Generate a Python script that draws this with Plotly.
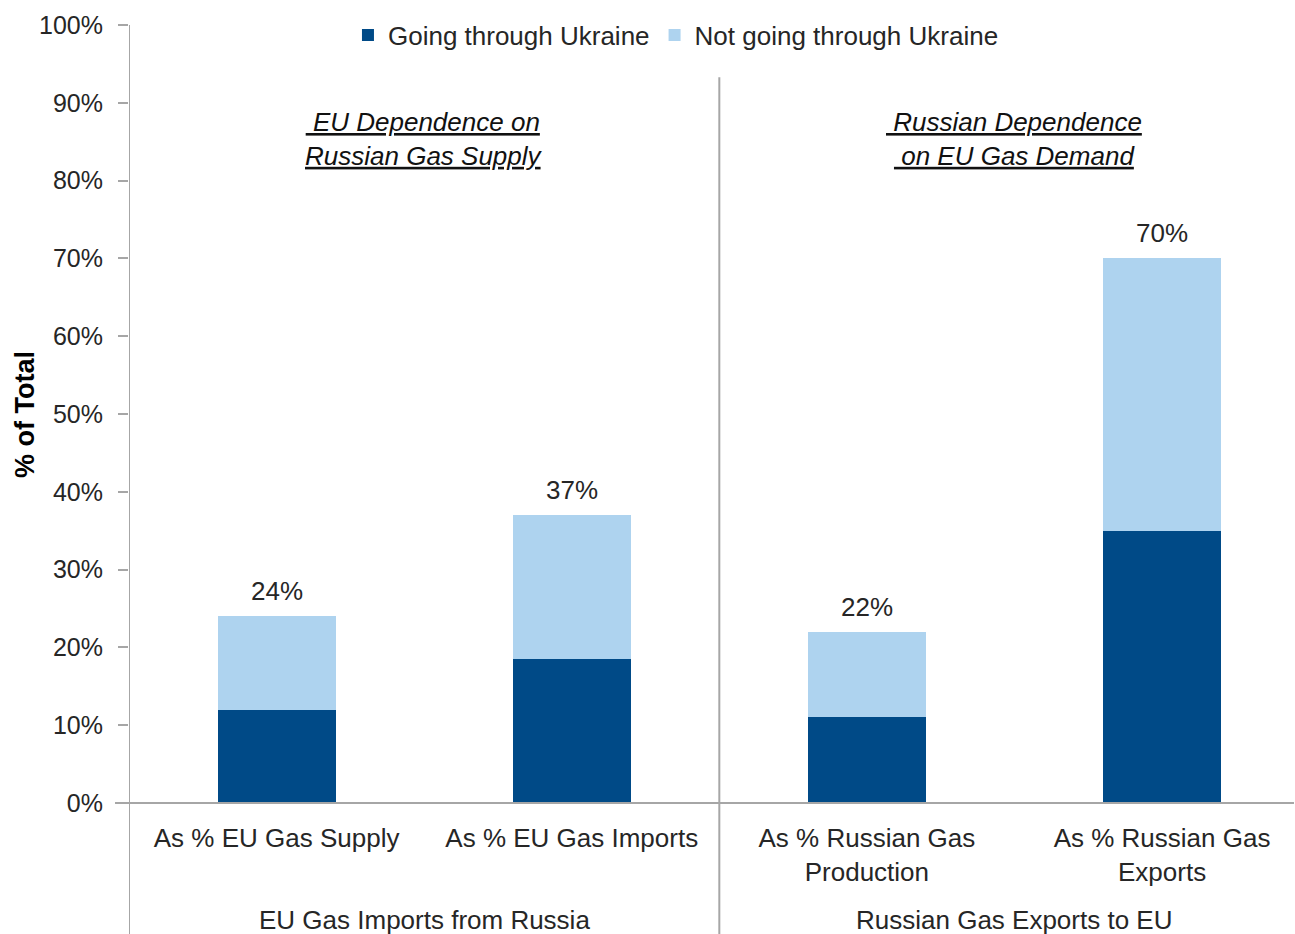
import plotly.graph_objects as go

# Share of gas volumes, split by transit route
categories = ["As % EU Gas Supply", "As % EU Gas Imports",
              "As % Russian Gas<br>Production", "As % Russian Gas<br>Exports"]
through_ukraine = [0.12, 0.185, 0.11, 0.35]
not_through_ukraine = [0.12, 0.185, 0.11, 0.35]
totals = [0.24, 0.37, 0.22, 0.70]
total_labels = ["24%", "37%", "22%", "70%"]

groups = ["EU Gas Imports from Russia", "Russian Gas Exports to EU"]
panel_titles = ["<i><u> EU Dependence on</u></i><br><i><u>Russian Gas Supply</u></i>",
                "<i><u> Russian Dependence</u></i><br><i><u> on EU Gas Demand</u></i>"]

DARK = "#004A87"
LIGHT = "#AED3EF"
AXIS = "#A6A6A6"
TEXT = "#262626"
FONT = "Liberation Sans, Arial, sans-serif"

xpos = list(range(len(categories)))

fig = go.Figure()
fig.add_trace(go.Bar(x=xpos, y=through_ukraine, name="Going through Ukraine",
                     marker=dict(color=DARK, line=dict(width=0)), width=0.4))
fig.add_trace(go.Bar(x=xpos, y=not_through_ukraine, name="Not going through Ukraine",
                     marker=dict(color=LIGHT, line=dict(width=0)), width=0.4))

# Total labels above each stack
for x, t, lab in zip(xpos, totals, total_labels):
    fig.add_annotation(x=x, y=t, text=lab, showarrow=False, yanchor="bottom",
                       yshift=8, font=dict(size=26, color=TEXT, family=FONT))

# Panel headings
for x, txt in zip([0.5, 2.5], panel_titles):
    fig.add_annotation(x=x, y=0.854, yref="y", text=txt, showarrow=False,
                       font=dict(size=26, color="#111111", family=FONT))

# Group labels beneath the category labels
for x, g in zip([0.5, 2.5], groups):
    fig.add_annotation(x=x, y=-0.1504, yref="paper", yanchor="middle", text=g,
                       showarrow=False, font=dict(size=26, color=TEXT, family=FONT))

# Value axis title
fig.add_annotation(x=-0.0893, xref="paper", y=0.5, yref="paper", text="<b>% of Total</b>",
                   textangle=-90, showarrow=False, xanchor="center", yanchor="middle",
                   font=dict(size=27, color="#000000", family=FONT))

shapes = [
    # baseline
    dict(type="line", xref="paper", yref="paper", x0=-0.012, x1=1, y0=0, y1=0,
         line=dict(color=AXIS, width=2)),
    # value axis, running down past the category labels
    dict(type="line", xref="x", yref="paper", x0=-0.5, x1=-0.5, y0=1, y1=-0.2,
         line=dict(color=AXIS, width=2)),
    # divider between the two groups
    dict(type="line", xref="x", yref="paper", x0=1.5, x1=1.5, y0=0.933, y1=-0.2,
         line=dict(color=AXIS, width=2)),
]

fig.update_layout(
    width=1295, height=934,
    margin=dict(l=129, r=1, t=25, b=131),
    paper_bgcolor="white", plot_bgcolor="white",
    barmode="stack", bargap=0,
    font=dict(family=FONT, size=24, color=TEXT),
    showlegend=True,
    legend=dict(orientation="h", x=0.4695, xanchor="center", y=0.987,
                yanchor="middle", font=dict(size=26, color=TEXT),
                traceorder="normal",
                bgcolor="rgba(0,0,0,0)", itemwidth=30, tracegroupgap=0),
    shapes=shapes,
    xaxis=dict(range=[-0.5, 3.447], tickvals=xpos, ticktext=categories,
               showgrid=False, zeroline=False, showline=False, ticks="",
               tickfont=dict(size=26, color=TEXT), ticklabelstandoff=17,
               fixedrange=True),
    yaxis=dict(range=[0, 1], dtick=0.1, tickformat=".0%", showgrid=False,
               zeroline=False, showline=False, ticks="outside", ticklen=10,
               tickwidth=2, tickcolor=AXIS, ticklabelstandoff=10,
               tickfont=dict(size=25, color=TEXT), fixedrange=True),
)

fig.write_html("out.html")
